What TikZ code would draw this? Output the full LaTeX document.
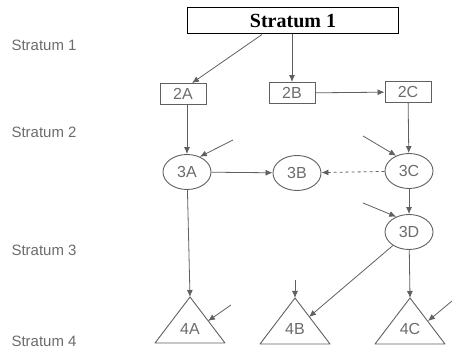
\documentclass[tikz,border=0pt]{standalone}
\usepackage{fontspec}
\newfontfamily\lblfont{Liberation Sans}
\newfontfamily\boxfont{Liberation Serif}
\usetikzlibrary{shapes.geometric, arrows.meta, calc}

\tikzset{
  arr/.style={-{Latex[length=7pt,width=6pt]}, line width=0.8pt, draw=gray!75!black},
  sq/.style={draw=gray!75!black, line width=0.9pt, minimum width=46pt, minimum height=21pt, inner sep=0pt, text=gray!85!black, font=\lblfont\fontsize{16}{16}\selectfont},
  oval/.style={sq, ellipse, minimum width=48pt, minimum height=35pt},
  tri/.style={draw=gray!75!black, line width=0.9pt, line join=round},
  lbl/.style={anchor=west, text=gray!85!black, font=\lblfont\fontsize{15}{15}\selectfont},
}

\begin{document}
\begin{tikzpicture}[x=1pt, y=-1pt]
    \useasboundingbox (0,0) rectangle (452,352);

    % Stratum names on the left
    \node[lbl] (l1) at (8,45) {Stratum 1};
    \node[lbl] (l2) at (8,132) {Stratum 2};
    \node[lbl] (l3) at (8,250) {Stratum 3};
    \node[lbl] (l4) at (8,341) {Stratum 4};

    % Top box
    \node[draw, line width=1pt, minimum width=211pt, minimum height=26pt, inner sep=0pt,
          font=\boxfont\bfseries\fontsize{20}{20}\selectfont] (s1) at (293,21) {Stratum 1};

    % Stratum 2 boxes
    \node[sq] (n2A) at (183,94) {2A};
    \node[sq] (n2B) at (292,93) {2B};
    \node[sq] (n2C) at (408,92) {2C};

    % Stratum 3 circles
    \node[oval] (n3A) at (187,172) {3A};
    \node[oval] (n3B) at (297,173) {3B};
    \node[oval] (n3C) at (409,171) {3C};
    \node[oval] (n3D) at (409,232) {3D};

    % Stratum 4 triangles
    \coordinate (top4A) at (190,297);
    \coordinate (top4B) at (295,298);
    \coordinate (top4C) at (410,298);
    \draw[tri] (top4A) -- ++(35,46) -- ++(-70,0) -- cycle;
    \draw[tri] (top4B) -- ++(35,46) -- ++(-70,0) -- cycle;
    \draw[tri] (top4C) -- ++(35,46) -- ++(-70,0) -- cycle;
    \node[text=gray!85!black, font=\lblfont\fontsize{16}{16}\selectfont] (n4A) at (190,329) {4A};
    \node[text=gray!85!black, font=\lblfont\fontsize{16}{16}\selectfont] (n4B) at (295,329) {4B};
    \node[text=gray!85!black, font=\lblfont\fontsize{16}{16}\selectfont] (n4C) at (410,329) {4C};

    % Links between strata
    \draw[arr] ($(s1.south)+(-31,0)$) -- ($(n2A.north)+(9,0)$);
    \draw[arr] (s1.south -| n2B) -- (n2B.north);
    \draw[arr] (n2B) -- (n2C);
    \draw[arr] (n2A.south -| n3A) -- (n3A);
    \draw[arr] (n2C) -- (n3C);
    \draw[arr] (n3A) -- (n3B);
    \draw[arr, dashed] (n3C) -- (n3B);
    \draw[arr] (n3C) -- (n3D);
    \draw[arr] (n3A) -- (top4A);
    \draw[arr] (n3D) -- (top4C);
    \coordinate (side4B) at (309,317);
    \draw[arr] (n3D.220) -- (side4B);

    % Short incoming arrows
    \coordinate (in3A) at (233,140);
    \coordinate (in3C) at (363,136);
    \coordinate (in3D) at (363,203);
    \coordinate (in4A) at (231,305);
    \coordinate (end4A) at (208,321);
    \coordinate (in4B) at (295,280);
    \coordinate (in4C) at (452,301);
    \coordinate (end4C) at (428,321);
    \draw[arr] (in3A) -- (n3A.50);
    \draw[arr] (in3C) -- (n3C.130);
    \draw[arr] (in3D) -- (n3D.130);
    \draw[arr] (in4A) -- (end4A);
    \draw[arr] (in4B) -- (top4B);
    \draw[arr] (in4C) -- (end4C);
\end{tikzpicture}
\end{document}
